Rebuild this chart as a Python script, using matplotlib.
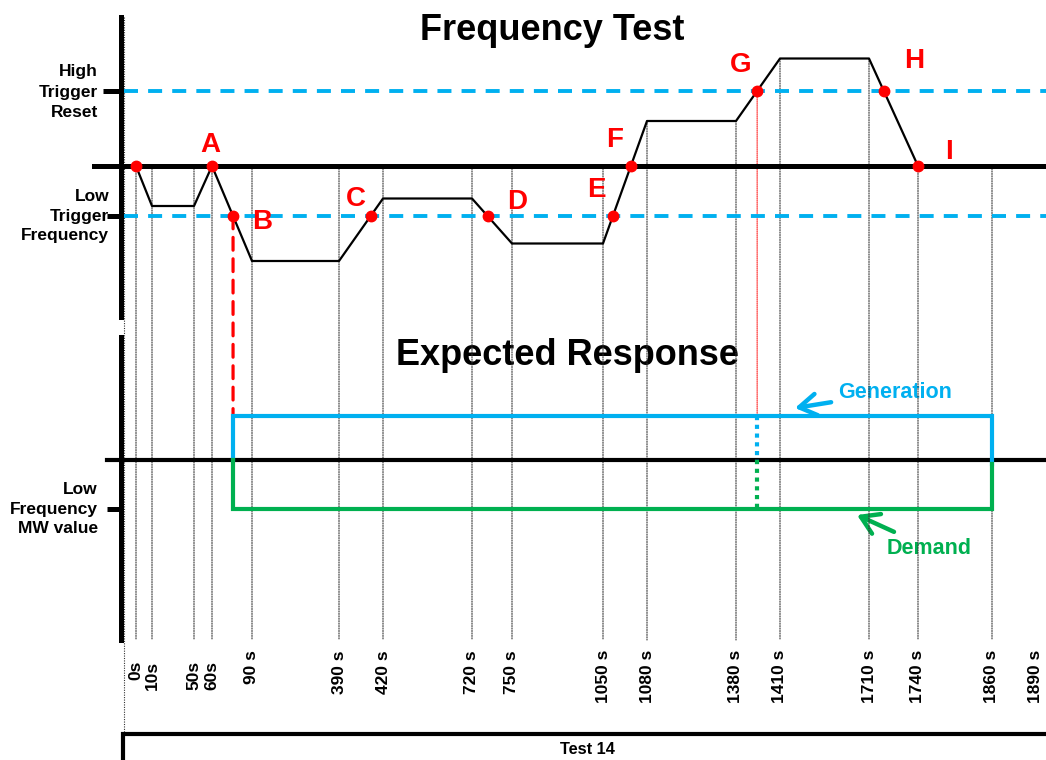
import numpy as np
import matplotlib
matplotlib.use("Agg")
import matplotlib.pyplot as plt
from matplotlib.patches import ConnectionPatch

plt.rcParams['font.family'] = ['Liberation Sans', 'DejaVu Sans']
plt.rcParams['font.weight'] = 'bold'

# ---------------- data ----------------
TRACE_T = [0, 10, 50, 60, 90, 390, 420, 720, 750, 1050, 1080, 1380, 1410, 1710, 1740]
TRACE_F = [50.0, 49.84, 49.84, 50.0, 49.62, 49.62, 49.87, 49.87, 49.69, 49.69,
           50.18, 50.18, 50.43, 50.43, 50.0]
NOMINAL_HZ = 50.0
LOW_TRIGGER_HZ = 49.8
HIGH_RESET_HZ = 50.3

TICK_TIMES = [0, 10, 50, 60, 90, 390, 420, 720, 750, 1050, 1080, 1380, 1410,
              1710, 1740, 1860, 1890]
TICK_LABELS = ["0s", "10s", "50s", "60s", "90 s", "390 s", "420 s", "720 s",
               "750 s", "1050 s", "1080 s", "1380 s", "1410 s", "1710 s",
               "1740 s", "1860 s", "1890 s"]
GRID_TIMES = [0, 10, 50, 60, 90, 390, 420, 720, 750, 1050, 1080, 1380, 1410,
              1710, 1740, 1860]

EVENT_LABELS = ["A", "B", "C", "D", "E", "F", "G", "H", "I"]
GENERATION_MW = 9.0
LOW_FREQ_MW = -10.0
RESPONSE_END_S = 1860

# ---------------- layout ----------------
W, H = 1046, 760
CYAN = "#00B0F0"
GREEN = "#00B050"
RED = "#FF0000"

# schematic (not-to-scale) time axis: seconds -> figure pixel
_T_KNOTS = [-10, 0, 10, 50, 60, 90, 390, 420, 720, 750, 1050, 1080, 1380, 1410,
            1710, 1740, 1860, 1890, 1900]
_PX_KNOTS = [121, 136, 152, 194, 212, 252, 339, 383, 472, 512, 603, 647, 736,
             780, 869, 918, 992, 1036, 1046]


def fwd(t):
    return np.interp(t, _T_KNOTS, _PX_KNOTS)


def inv(p):
    return np.interp(p, _PX_KNOTS, _T_KNOTS)


fig = plt.figure(figsize=(W / 100, H / 100), dpi=100)

ax_bg = fig.add_axes([0, 0, 1, 1], zorder=0)
ax_bg.set_xlim(0, W)
ax_bg.set_ylim(H, 0)
ax_bg.axis("off")

AX_L = 121
AX_W = W - AX_L
ax_f = fig.add_axes([AX_L / W, (H - 317) / H, AX_W / W, 300 / H], zorder=2)
ax_m = fig.add_axes([AX_L / W, (H - 640) / H, AX_W / W, 303 / H], zorder=2)

for ax in (ax_f, ax_m):
    ax.set_xscale("function", functions=(fwd, inv))
    ax.set_xlim(-10, 1900)
    ax.patch.set_alpha(0)
    for s in ("top", "right", "bottom"):
        ax.spines[s].set_visible(False)
    ax.spines["left"].set_linewidth(3.6)
    ax.set_yticks([])

ax_f.set_ylim(49.396, 50.596)
ax_m.set_ylim(-36.7, 25.1)
ax_f.set_xticks([])

# ---------------- frequency panel ----------------
ax_f.axhline(NOMINAL_HZ, xmin=(94 - AX_L) / AX_W, xmax=1, color="black",
             lw=3.6, clip_on=False, zorder=3)
for lvl in (HIGH_RESET_HZ, LOW_TRIGGER_HZ):
    ax_f.axhline(lvl, xmin=0.003, xmax=1, color=CYAN, lw=2.8,
                 dashes=(3.6, 2.6), zorder=2)

ax_f.plot(TRACE_T, TRACE_F, color="black", lw=1.6, zorder=4)


def crossing(level, t0, t1):
    f0, f1 = np.interp([t0, t1], TRACE_T, TRACE_F)
    return t0 + (level - f0) / (f1 - f0) * (t1 - t0)


t_B = crossing(LOW_TRIGGER_HZ, 60, 90)
t_G = crossing(HIGH_RESET_HZ, 1380, 1410)
events = [
    (60, NOMINAL_HZ),
    (t_B, LOW_TRIGGER_HZ),
    (crossing(LOW_TRIGGER_HZ, 390, 420), LOW_TRIGGER_HZ),
    (crossing(LOW_TRIGGER_HZ, 720, 750), LOW_TRIGGER_HZ),
    (crossing(LOW_TRIGGER_HZ, 1050, 1080), LOW_TRIGGER_HZ),
    (crossing(NOMINAL_HZ, 1050, 1080), NOMINAL_HZ),
    (t_G, HIGH_RESET_HZ),
    (crossing(HIGH_RESET_HZ, 1710, 1740), HIGH_RESET_HZ),
    (1740, NOMINAL_HZ),
]
label_offsets = [(-2, 21), (29, -6), (-15, 17), (30, 14), (-17, 26),
                 (-16, 26), (-16, 26), (30, 30), (31, 14)]

ax_f.plot([0] + [e[0] for e in events], [NOMINAL_HZ] + [e[1] for e in events],
          ls="none", marker="o", ms=7.5, color=RED, zorder=6)
for lab, (t, f), off in zip(EVENT_LABELS, events, label_offsets):
    ax_f.annotate(lab, xy=(t, f), xytext=off, textcoords="offset pixels",
                  ha="center", va="center", color=RED, fontsize=20,
                  fontweight="bold", zorder=7)

# y tick marks and labels
ytr_f = ax_f.get_yaxis_transform()
ax_f.plot([(103 - AX_L) / AX_W, 0], [HIGH_RESET_HZ] * 2, color="black",
          lw=3.6, transform=ytr_f, clip_on=False, solid_capstyle="butt")
ax_f.plot([(107 - AX_L) / AX_W, 0], [LOW_TRIGGER_HZ] * 2, color="black",
          lw=3.6, transform=ytr_f, clip_on=False, solid_capstyle="butt")
ax_f.annotate("High\nTrigger\nReset", xy=(0, HIGH_RESET_HZ), xycoords=ytr_f,
              xytext=(-23, -1), textcoords="offset pixels", ha="right",
              va="center", multialignment="right", fontsize=12.5,
              fontweight="bold", linespacing=1.45, annotation_clip=False)
ax_f.annotate("Low\nTrigger\nFrequency", xy=(0, LOW_TRIGGER_HZ), xycoords=ytr_f,
              xytext=(-12, 0), textcoords="offset pixels", ha="right",
              va="center", multialignment="right", fontsize=12.5,
              fontweight="bold", linespacing=1.4, annotation_clip=False)

# ---------------- response panel ----------------
ax_m.axhline(0, xmin=(107 - AX_L) / AX_W, xmax=1, color="black", lw=3.0,
             clip_on=False, zorder=3)
ax_m.plot([t_B, t_B, RESPONSE_END_S, RESPONSE_END_S],
          [0, GENERATION_MW, GENERATION_MW, -0.8], color=CYAN, lw=3.0,
          solid_joinstyle="miter", zorder=4)
ax_m.plot([t_B, t_B, RESPONSE_END_S, RESPONSE_END_S],
          [0, LOW_FREQ_MW, LOW_FREQ_MW, -0.8], color=GREEN, lw=3.0,
          solid_joinstyle="miter", zorder=4)
ax_m.plot([t_G, t_G], [GENERATION_MW, 0], color=CYAN, lw=3.0,
          ls=(0, (1, 1.1)), zorder=4)
ax_m.plot([t_G, t_G], [0, LOW_FREQ_MW], color=GREEN, lw=3.0,
          ls=(0, (1, 1.1)), zorder=4)

ytr_m = ax_m.get_yaxis_transform()
ax_m.plot([(107 - AX_L) / AX_W, 0], [LOW_FREQ_MW] * 2, color="black",
          lw=3.6, transform=ytr_m, clip_on=False, solid_capstyle="butt")
ax_m.annotate("Low\nFrequency\nMW value", xy=(0, LOW_FREQ_MW), xycoords=ytr_m,
              xytext=(-23, 0), textcoords="offset pixels", ha="right",
              va="center", multialignment="right", fontsize=12.5,
              fontweight="bold", linespacing=1.4, annotation_clip=False)

ax_m.set_xticks(TICK_TIMES)
ax_m.set_xticklabels(TICK_LABELS, rotation=90, fontsize=12.5,
                     fontweight="bold")
ax_m.tick_params(axis="x", length=0, pad=7.2)
for lbl in ax_m.get_xticklabels():
    if " " not in lbl.get_text():
        lbl.set_y(-11 / 303)

# ---------------- vertical connectors ----------------
y_bottom = ax_m.get_ylim()[0]
for t in GRID_TIMES:
    top = max(float(np.interp(t, TRACE_T, TRACE_F)), NOMINAL_HZ)
    con = ConnectionPatch((t, top), (t, y_bottom), coordsA=ax_f.transData,
                          coordsB=ax_m.transData, color="#333333", lw=0.8,
                          ls=(0, (1, 1.2)), zorder=1.5)
    fig.add_artist(con)

fig.add_artist(ConnectionPatch((t_B, LOW_TRIGGER_HZ), (t_B, GENERATION_MW),
                               coordsA=ax_f.transData, coordsB=ax_m.transData,
                               color=RED, lw=2.3, ls=(0, (4, 2.7)), zorder=1.6))
fig.add_artist(ConnectionPatch((t_G, HIGH_RESET_HZ), (t_G, GENERATION_MW),
                               coordsA=ax_f.transData, coordsB=ax_m.transData,
                               color=RED, lw=0.7, ls=(0, (1, 1)), zorder=1.6))

# ---------------- decorations (pixel layout) ----------------
ax_bg.plot([124, 124], [17, 733], color="#333333", lw=0.8, ls=(0, (1, 1.2)))
ax_bg.plot([121, W], [734, 734], color="black", lw=3.0, solid_capstyle="butt")
ax_bg.plot([123, 123], [732, H], color="black", lw=3.0, solid_capstyle="butt")
ax_bg.text(587, 750, "Test 14", ha="center", va="center", fontsize=11.8,
           fontweight="bold")

ax_bg.text(552, 40, "Frequency Test", ha="center", va="baseline", fontsize=26,
           fontweight="bold")
ax_bg.text(568, 365, "Expected Response", ha="center", va="baseline",
           fontsize=26, fontweight="bold")

ax_bg.annotate("Generation", xy=(795, 408), xytext=(838, 392),
               ha="left", va="center", color=CYAN, fontsize=15.5,
               fontweight="bold",
               arrowprops=dict(arrowstyle="->,head_length=0.8,head_width=0.5",
                               color=CYAN, lw=3.2, shrinkA=3, shrinkB=0))
ax_bg.annotate("Demand", xy=(857, 515), xytext=(887, 548),
               ha="left", va="center", color=GREEN, fontsize=15.5,
               fontweight="bold",
               arrowprops=dict(arrowstyle="->,head_length=0.8,head_width=0.5",
                               color=GREEN, lw=3.2, shrinkA=5, shrinkB=0))

fig.savefig("out.png", dpi=100)
